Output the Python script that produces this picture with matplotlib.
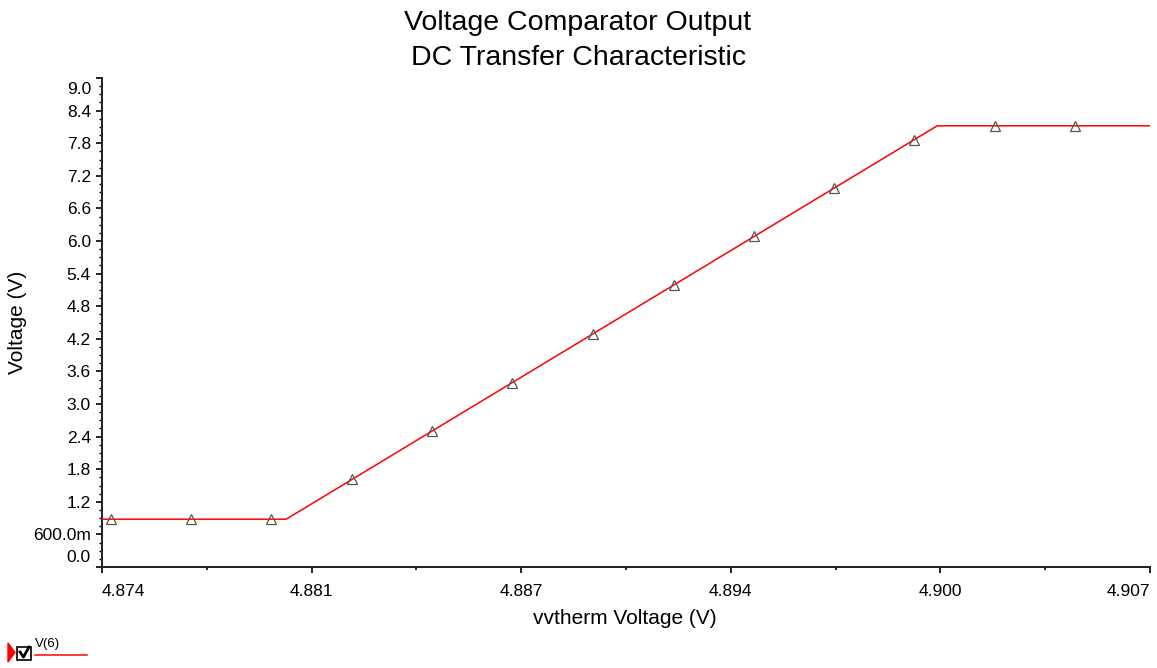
import numpy as np
import matplotlib
matplotlib.use("Agg")
import matplotlib.pyplot as plt
import matplotlib.transforms as mtransforms
from matplotlib.patches import Rectangle, Polygon
from matplotlib.lines import Line2D

plt.rcParams['font.family'] = ['Liberation Sans', 'DejaVu Sans']

# trace V(6): polyline breakpoints
vin = [4.874, 4.8798, 4.9003, 4.907]
vout = [0.88, 0.88, 8.12, 8.12]

# symbol markers on the trace
mark_x = [4.87428, 4.87680, 4.87932, 4.88187, 4.88439, 4.88691, 4.88946,
          4.89201, 4.89453, 4.89705, 4.89957, 4.90212, 4.90464]
mark_y = [0.88, 0.88, 0.88, 1.62, 2.505, 3.394, 4.294,
          5.194, 6.083, 6.972, 7.861, 8.12, 8.12]

xticks = [4.874, 4.8806, 4.8872, 4.8938, 4.9004, 4.907]
xlabels = ['4.874', '4.881', '4.887', '4.894', '4.900', '4.907']
yticks = [0.0, 0.6, 1.2, 1.8, 2.4, 3.0, 3.6, 4.2, 4.8, 5.4, 6.0, 6.6, 7.2, 7.8, 8.4, 9.0]
ylabels = ['0.0', '600.0m', '1.2', '1.8', '2.4', '3.0', '3.6', '4.2', '4.8',
           '5.4', '6.0', '6.6', '7.2', '7.8', '8.4', '9.0']

fig = plt.figure(figsize=(11.57, 6.68), dpi=100)
ax = fig.add_axes([102/1157, 1 - 567/668, 1048/1157, 489/668])

ax.plot(vin, vout, color='#ff0000', lw=1.1, zorder=3)
ax.plot(mark_x, mark_y, ls='none', marker='^', ms=6.5, mfc='none',
        mec='#555555', mew=0.9, zorder=4)

ax.set_xlim(4.874, 4.907)
ax.set_ylim(0, 9.0)
ax.set_xticks(xticks)
ax.set_xticklabels(xlabels)
ax.set_xticks([(a + b) / 2 for a, b in zip(xticks[:-1], xticks[1:])], minor=True)
ax.set_yticks(yticks)
ax.set_yticklabels(ylabels)
ax.set_yticks(np.arange(0, 9.01, 0.15), minor=True)

for s in ['top', 'right']:
    ax.spines[s].set_visible(False)
for s in ['left', 'bottom']:
    ax.spines[s].set_linewidth(1.4)
    ax.spines[s].set_color('#202020')

ax.tick_params(axis='x', which='major', length=4, width=1.2, pad=8, labelsize=12.5)
ax.tick_params(axis='x', which='minor', length=2, width=1.2)
ax.tick_params(axis='y', which='major', length=4, width=1.2, pad=4, labelsize=12.5)
ax.tick_params(axis='y', which='minor', length=2.5, width=1.0)

xl = ax.get_xticklabels()
xl[0].set_ha('left')
xl[-1].set_ha('right')
yl = ax.get_yticklabels()
yl[0].set_transform(yl[0].get_transform() +
                    mtransforms.ScaledTranslation(0, 11/100, fig.dpi_scale_trans))
yl[-1].set_transform(yl[-1].get_transform() +
                     mtransforms.ScaledTranslation(0, -10/100, fig.dpi_scale_trans))

fig.text(0.4996, 1 - 40.5/668, 'Voltage Comparator Output\nDC Transfer Characteristic',
         ha='center', va='center', fontsize=20.5, linespacing=1.42)
fig.text(625/1157, 1 - 618/668, 'vvtherm Voltage (V)', ha='center', va='center', fontsize=15)
fig.text(18/1157, 1 - 322/668, 'Voltage (V)', ha='center', va='center',
         rotation=90, fontsize=15)

# trace legend at bottom left
H = 668
fig.patches.append(Polygon([[8/1157, 1 - 643/H], [8/1157, 1 - 662/H], [15/1157, 1 - 652.5/H]],
                           closed=True, transform=fig.transFigure, color='#ff0000'))
fig.patches.append(Rectangle((17/1157, 1 - 660/H), 14/1157, 13/H, transform=fig.transFigure,
                             fill=False, ec='black', lw=1.2))
fig.lines.append(Line2D([20/1157, 23.5/1157, 29/1157], [1 - 652/H, 1 - 657/H, 1 - 647/H],
                        transform=fig.transFigure, color='black', lw=2))
fig.text(35/1157, 1 - 644/H, 'V(6)', ha='left', va='center', fontsize=9.5)
fig.lines.append(Line2D([35/1157, 87/1157], [1 - 655/H, 1 - 655/H],
                        transform=fig.transFigure, color='#ff0000', lw=1.1))

fig.savefig('out.png', dpi=100, facecolor='white')
